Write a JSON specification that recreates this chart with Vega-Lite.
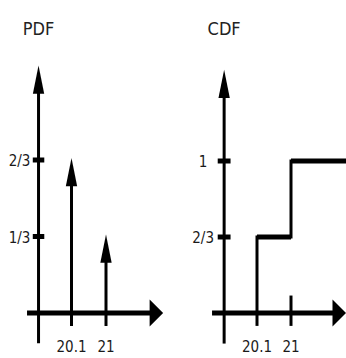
{
  "$schema": "https://vega.github.io/schema/vega-lite/v6.json",
  "padding": 0,
  "spacing": 0,
  "background": "white",
  "config": {"view": {"stroke": null}, "text": {"font": "DejaVu Sans Condensed", "color": "#1a1a1a"}},
  "datasets": {
    "pdf": [
      {"part": "hseg", "x": 18.94, "x2": 22.3, "y": 0},
      {"part": "hseg", "x": 19.09, "x2": 19.39, "y": 0.3333},
      {"part": "hseg", "x": 19.09, "x2": 19.39, "y": 0.6667},
      {"part": "vseg", "x": 19.24, "y": -0.125, "y2": 0.98},
      {"part": "vseg", "x": 20.1, "y": -0.05, "y2": 0.62},
      {"part": "vseg", "x": 21, "y": -0.05, "y2": 0.29},
      {"part": "uparrow", "x": 19.24, "y": 1.07},
      {"part": "uparrow", "x": 20.1, "y": 0.6667},
      {"part": "uparrow", "x": 21, "y": 0.3333},
      {"part": "rarrow", "x": 22.49, "y": 0},
      {"part": "ylabel", "x": 19.24, "y": 0.3333, "label": "1/3"},
      {"part": "ylabel", "x": 19.24, "y": 0.6667, "label": "2/3"},
      {"part": "xlabel", "x": 20.1, "y": 0, "label": "20.1"},
      {"part": "xlabel", "x": 21, "y": 0, "label": "21"},
      {"part": "title", "x": 19.24, "y": 1.233, "label": "PDF"}
    ],
    "cdf": [
      {"part": "hseg", "x": 18.91, "x2": 22.3, "y": 0},
      {"part": "hseg", "x": 19.06, "x2": 19.4, "y": 0.6667},
      {"part": "hseg", "x": 19.06, "x2": 19.4, "y": 1},
      {"part": "hseg", "x": 20.1, "x2": 21, "y": 0.6667},
      {"part": "hseg", "x": 21, "x2": 22.5, "y": 1},
      {"part": "vseg", "x": 19.23, "y": -0.255, "y2": 1.31},
      {"part": "vseg", "x": 20.1, "y": -0.1, "y2": 0.6667},
      {"part": "vseg", "x": 21, "y": 0.6667, "y2": 1},
      {"part": "vseg", "x": 21, "y": -0.1, "y2": 0.14},
      {"part": "uparrow", "x": 19.23, "y": 1.4},
      {"part": "rarrow", "x": 22.456, "y": 0},
      {"part": "ylabel", "x": 19.23, "y": 0.6667, "label": "2/3"},
      {"part": "ylabel", "x": 19.23, "y": 1, "label": "1"},
      {"part": "xlabel", "x": 20.1, "y": 0, "label": "20.1"},
      {"part": "xlabel", "x": 21, "y": 0, "label": "21"},
      {"part": "title", "x": 19.23, "y": 1.575, "label": "CDF"}
    ]
  },
  "hconcat": [
    {
      "width": 173,
      "height": 358,
      "data": {"name": "pdf"},
      "encoding": {
        "x": {"field": "x", "type": "quantitative", "axis": null,
              "scale": {"domain": [20.1, 21], "range": [71.5, 106], "nice": false, "zero": false}},
        "y": {"field": "y", "type": "quantitative", "axis": null,
              "scale": {"domain": [0, 0.6667], "range": [313, 160], "nice": false, "zero": false}}
      },
      "layer": [
        {"transform": [{"filter": "datum.part === 'hseg'"}],
         "mark": {"type": "rule", "color": "black", "strokeWidth": 5},
         "encoding": {"x2": {"field": "x2"}}},
        {"transform": [{"filter": "datum.part === 'vseg'"}],
         "mark": {"type": "rule", "color": "black", "strokeWidth": 3, "strokeCap": "square"},
         "encoding": {"y2": {"field": "y2"}}},
        {"transform": [{"filter": "datum.part === 'uparrow'"}],
         "mark": {"type": "point", "filled": true, "color": "black", "opacity": 1, "size": 800,
                  "shape": "M0,0L0.4,2L-0.4,2Z", "yOffset": -2}},
        {"transform": [{"filter": "datum.part === 'rarrow'"}],
         "mark": {"type": "point", "filled": true, "color": "black", "opacity": 1, "size": 729,
                  "shape": "M0,0L-1,-1L-1,1Z"}},
        {"transform": [{"filter": "datum.part === 'ylabel'"}],
         "mark": {"type": "text", "fontSize": 15, "align": "center", "baseline": "middle", "dx": -19, "dy": 1},
         "encoding": {"text": {"field": "label"}}},
        {"transform": [{"filter": "datum.part === 'xlabel'"}],
         "mark": {"type": "text", "fontSize": 15, "align": "center", "baseline": "middle", "dy": 34},
         "encoding": {"text": {"field": "label"}}},
        {"transform": [{"filter": "datum.part === 'title'"}],
         "mark": {"type": "text", "fontSize": 18, "align": "center", "baseline": "middle", "color": "#222"},
         "encoding": {"text": {"field": "label"}}}
      ]
    },
    {
      "width": 173,
      "height": 358,
      "data": {"name": "cdf"},
      "encoding": {
        "x": {"field": "x", "type": "quantitative", "axis": null,
              "scale": {"domain": [20.1, 21], "range": [84, 118], "nice": false, "zero": false}},
        "y": {"field": "y", "type": "quantitative", "axis": null,
              "scale": {"domain": [0, 0.6667, 1], "range": [313, 237, 161], "nice": false, "zero": false}}
      },
      "layer": [
        {"transform": [{"filter": "datum.part === 'hseg'"}],
         "mark": {"type": "rule", "color": "black", "strokeWidth": 5},
         "encoding": {"x2": {"field": "x2"}}},
        {"transform": [{"filter": "datum.part === 'vseg'"}],
         "mark": {"type": "rule", "color": "black", "strokeWidth": 3, "strokeCap": "square"},
         "encoding": {"y2": {"field": "y2"}}},
        {"transform": [{"filter": "datum.part === 'uparrow'"}],
         "mark": {"type": "point", "filled": true, "color": "black", "opacity": 1, "size": 800,
                  "shape": "M0,0L0.4,2L-0.4,2Z"}},
        {"transform": [{"filter": "datum.part === 'rarrow'"}],
         "mark": {"type": "point", "filled": true, "color": "black", "opacity": 1, "size": 729,
                  "shape": "M0,0L-1,-1L-1,1Z"}},
        {"transform": [{"filter": "datum.part === 'ylabel'"}],
         "mark": {"type": "text", "fontSize": 15, "align": "center", "baseline": "middle", "dx": -21, "dy": 1},
         "encoding": {"text": {"field": "label"}}},
        {"transform": [{"filter": "datum.part === 'xlabel'"}],
         "mark": {"type": "text", "fontSize": 15, "align": "center", "baseline": "middle", "dy": 34},
         "encoding": {"text": {"field": "label"}}},
        {"transform": [{"filter": "datum.part === 'title'"}],
         "mark": {"type": "text", "fontSize": 18, "align": "center", "baseline": "middle", "color": "#222"},
         "encoding": {"text": {"field": "label"}}}
      ]
    }
  ]
}
